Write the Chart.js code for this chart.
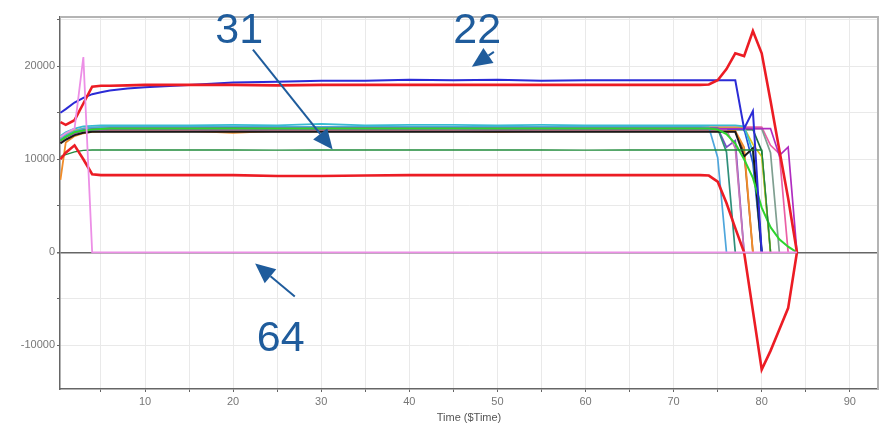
<!DOCTYPE html>
<html>
<head>
<meta charset="utf-8">
<script src="https://cdn.jsdelivr.net/npm/chart.js@4.4.1/dist/chart.umd.min.js"></script>
<style>
  html, body { margin: 0; padding: 0; background: #fff; }
  #wrap { width: 879px; height: 425px; }
</style>
</head>
<body>
<div id="wrap"><canvas id="c" width="879" height="425"></canvas></div>
<script>
// Sample times ($Time); the plateau is sampled coarsely, the run-out finely.
const time = [0.4, 1, 2, 3, 4, 5, 6, 8,
  10, 15, 20, 25, 30, 35, 40, 45, 50, 55, 60, 65, 70, 72, 73,
  74, 75, 76, 77, 78, 79, 80, 81, 82, 83, 84];

// Axis ticks
const xTicks = [5, 10, 15, 20, 25, 30, 35, 40, 45, 50, 55, 60, 65, 70, 75, 80, 85, 90];
const yTicks = [-10000, -5000, 0, 5000, 10000, 15000, 20000, 25000];

// Highlighted runs
const run64 = [12400, 12800, 13300, 21000, 0, 0, 0, 0,
  0, 0, 0, 0, 0, 0, 0, 0, 0, 0, 0, 0, 0, 0, 0,
  0, 0, 0, 0, 0, 0, 0, 0, 0, 0, 0];
const runUpperRed = [14000, 13700, 14200, 16000, 17800, 17900, 17900, 17950,
  18000, 18000, 18000, 17950, 18000, 18000, 18000, 18000, 18000, 18000, 18000, 18000, 18000, 18000, 18000,
  18050, 18500, 19700, 21400, 21100, 23800, 21400, 16300, 11000, 5800, 0];
const runLowerRed = [10000, 10700, 11500, 10000, 8400, 8300, 8300, 8300,
  8300, 8300, 8300, 8200, 8200, 8250, 8300, 8300, 8300, 8300, 8300, 8300, 8300, 8300, 8300,
  8250, 7600, 5300, 2600, 0, -6300, -12600, -10600, -8300, -6000, 0];
const run22 = [15000, 15400, 16100, 16600, 17000, 17200, 17400, 17600,
  17750, 18000, 18250, 18350, 18450, 18450, 18550, 18500, 18550, 18450, 18500, 18500, 18500, 18500, 18500,
  18500, 18500, 18500, 18500, 13300, 15200, 0];
const run31 = [10300, 10500, 10800, 10950, 11000, 11000, 11000, 11000,
  11000, 11000, 11000, 10980, 11000, 11000, 11000, 11000, 11000, 11000, 10980, 11000, 11000, 11000, 11000,
  11000, 11000, 11000, 11000, 11000, 11000, 11000, 0];
const runLime = [12000, 12400, 12900, 13100, 13200, 13250, 13300, 13300,
  13300, 13300, 13300, 13300, 13300, 13300, 13300, 13300, 13300, 13300, 13300, 13300, 13300, 13300, 13300,
  13300, 13200, 12700, 11700, 10000, 8000, 4800, 2700, 1400, 600, 0];

// Main bundle of runs
const runA = [12200, 12600, 13000, 13300, 13400, 13450, 13500, 13500,
  13500, 13500, 13550, 13500, 13500, 13550, 13500, 13500, 13500, 13500, 13500, 13500, 13500, 13500, 13500,
  13450, 10200, 0];
const runB = [12500, 12900, 13300, 13550, 13600, 13650, 13650, 13650,
  13650, 13650, 13700, 13650, 13800, 13650, 13700, 13700, 13650, 13700, 13650, 13650, 13650, 13650, 13650,
  13650, 13650, 13650, 13650, 13550, 10800, 0];
const runC = [12000, 12400, 12800, 13100, 13200, 13250, 13300, 13300,
  13300, 13300, 13350, 13300, 13300, 13300, 13300, 13350, 13300, 13300, 13300, 13300, 13300, 13300, 13300,
  13300, 13300, 10800, 0];
const runD = [11900, 12300, 12700, 12950, 13050, 13100, 13150, 13150,
  13150, 13150, 13150, 13150, 13150, 13150, 13150, 13150, 13150, 13150, 13150, 13150, 13150, 13150, 13150,
  13150, 13150, 13150, 11200, 0];
const runE = [12100, 12500, 12900, 13200, 13300, 13300, 13350, 13350,
  13350, 13350, 13350, 13350, 13350, 13350, 13350, 13350, 13350, 13350, 13350, 13350, 13350, 13350, 13350,
  13350, 13350, 11300, 12000, 0];
const runF = [7800, 11800, 12500, 12800, 12950, 13000, 13050, 13050,
  13050, 13050, 12850, 13050, 13050, 13050, 13050, 13050, 12950, 13050, 13050, 13050, 13050, 13050, 13050,
  13050, 13050, 13050, 13050, 11300, 0];
const runG = [11700, 12100, 12600, 12850, 12950, 12950, 12950, 12950,
  12950, 12950, 12950, 12950, 12950, 12950, 12950, 12950, 12950, 12950, 12950, 12950, 12950, 12950, 12950,
  12950, 12950, 12950, 12950, 10300, 11200, 0];
const runH = [12300, 12700, 13100, 13300, 13350, 13400, 13400, 13400,
  13400, 13400, 13400, 13400, 13400, 13400, 13400, 13400, 13400, 13400, 13400, 13400, 13400, 13400, 13400,
  13400, 13400, 13400, 13400, 13400, 11600, 10300, 0];
const runI = [12000, 12400, 12800, 13100, 13200, 13200, 13250, 13250,
  13250, 13250, 13250, 13250, 13250, 13250, 13250, 13250, 13250, 13250, 13250, 13250, 13250, 13250, 13250,
  13250, 13250, 13250, 13250, 13250, 9600, 0];
const runJ = [11900, 12300, 12800, 13050, 13150, 13200, 13200, 13200,
  13200, 13200, 13200, 13200, 13200, 13200, 13200, 13200, 13200, 13200, 13200, 13200, 13200, 13200, 13200,
  13200, 13200, 13200, 13200, 13200, 13200, 10900, 0];
const runK = [12100, 12500, 12900, 13150, 13250, 13300, 13300, 13300,
  13300, 13300, 13300, 13300, 13300, 13300, 13300, 13300, 13300, 13300, 13300, 13300, 13300, 13300, 13300,
  13300, 13300, 13300, 13300, 13300, 13300, 13300, 10700, 0];
const runL = [12300, 12700, 13100, 13300, 13400, 13450, 13450, 13450,
  13450, 13450, 13450, 13450, 13450, 13450, 13450, 13450, 13450, 13450, 13450, 13450, 13450, 13450, 13450,
  13450, 13450, 13450, 13450, 13450, 13450, 13450, 11500, 10600, 0];
const runM = [12000, 12400, 12800, 13100, 13200, 13250, 13300, 13300,
  13300, 13300, 13300, 13300, 13300, 13300, 13300, 13300, 13300, 13300, 13300, 13300, 13300, 13300, 13300,
  13300, 13300, 13300, 13300, 13300, 13300, 13300, 13300, 10400, 11300, 0];
const runN = [11800, 12200, 12600, 12900, 13000, 13000, 13000, 13000,
  13000, 13000, 13000, 13000, 13000, 13000, 13000, 13000, 13000, 13000, 13000, 13000, 13000, 13000, 13000,
  13000, 13000, 13000, 13000, 10800, 0];

// Series list: first entries are painted last (on top)
const series = [
  { label: '64', values: run64, color: '#ec8fe6', width: 1.8 },
  { label: 'upper red', values: runUpperRed, color: '#ec1c24', width: 2.6 },
  { label: 'lower red', values: runLowerRed, color: '#ec1c24', width: 2.6 },
  { label: '22', values: run22, color: '#2b2bd6', width: 2 },
  { label: '31', values: run31, color: '#1f8a3a', width: 1.3 },
  { label: 'lime', values: runLime, color: '#2fd42f', width: 2 },
  { label: 'm', values: runM, color: '#b02cc0', width: 1.7 },
  { label: 'g', values: runG, color: '#1a1a1a', width: 2 },
  { label: 'b', values: runB, color: '#38bcd0', width: 1.8 },
  { label: 'a', values: runA, color: '#4ea6dc', width: 1.7 },
  { label: 'c', values: runC, color: '#2f8f7a', width: 1.7 },
  { label: 'd', values: runD, color: '#c878b8', width: 1.7 },
  { label: 'e', values: runE, color: '#7a4ac8', width: 1.7 },
  { label: 'f', values: runF, color: '#f08c2a', width: 1.8 },
  { label: 'h', values: runH, color: '#d8c820', width: 1.7 },
  { label: 'i', values: runI, color: '#2454d8', width: 1.7 },
  { label: 'j', values: runJ, color: '#1d6e45', width: 1.7 },
  { label: 'k', values: runK, color: '#7f9f90', width: 1.7 },
  { label: 'l', values: runL, color: '#ea5fa5', width: 1.7 },
  { label: 'n', values: runN, color: '#a0582a', width: 1.7 }
];

// Callout labels with arrows, anchored in data units
const callouts = [
  { text: '31', tx: 20.7, ty: 22500, fromX: 22.25, fromY: 21800, toX: 31.3, toY: 11050 },
  { text: '22', tx: 47.7, ty: 22500, fromX: 49.6, fromY: 21550, toX: 47.1, toY: 19950 },
  { text: '64', tx: 25.4, ty: -10600, fromX: 27.0, fromY: -4750, toX: 22.5, toY: -1200 }
];

const FONT = "'Liberation Sans', Arial, sans-serif";

const framePlugin = {
  id: 'frame',
  beforeDatasetsDraw(chart) {
    const { ctx, chartArea: a } = chart;
    ctx.save();
    ctx.strokeStyle = '#b4b4b4';
    ctx.lineWidth = 2;
    ctx.beginPath();
    ctx.moveTo(a.left, a.top);
    ctx.lineTo(a.right, a.top);
    ctx.lineTo(a.right, a.bottom);
    ctx.stroke();
    ctx.restore();
  }
};

const calloutPlugin = {
  id: 'callouts',
  afterDraw(chart) {
    const { ctx } = chart;
    const xs = chart.scales.x, ys = chart.scales.y;
    const blue = '#1f5c9c';
    ctx.save();
    ctx.fillStyle = blue;
    ctx.strokeStyle = blue;
    ctx.font = '43px ' + FONT;
    ctx.textAlign = 'center';
    ctx.textBaseline = 'alphabetic';
    for (const c of callouts) {
      ctx.fillText(c.text, xs.getPixelForValue(c.tx), ys.getPixelForValue(c.ty));
      const x0 = xs.getPixelForValue(c.fromX), y0 = ys.getPixelForValue(c.fromY);
      const x1 = xs.getPixelForValue(c.toX), y1 = ys.getPixelForValue(c.toY);
      const ang = Math.atan2(y1 - y0, x1 - x0);
      const headLen = 20, headHalf = 9;
      const bx = x1 - headLen * Math.cos(ang), by = y1 - headLen * Math.sin(ang);
      ctx.lineWidth = 2;
      ctx.beginPath();
      ctx.moveTo(x0, y0);
      ctx.lineTo(bx, by);
      ctx.stroke();
      ctx.beginPath();
      ctx.moveTo(x1, y1);
      ctx.lineTo(bx + headHalf * Math.sin(ang), by - headHalf * Math.cos(ang));
      ctx.lineTo(bx - headHalf * Math.sin(ang), by + headHalf * Math.cos(ang));
      ctx.closePath();
      ctx.fill();
    }
    ctx.restore();
  }
};

const datasets = series.map(s => ({
  label: s.label,
  data: s.values.map((v, i) => ({ x: time[i], y: v })),
  borderColor: s.color,
  backgroundColor: s.color,
  borderWidth: s.width,
  pointRadius: 0,
  tension: 0,
  fill: false
}));

new Chart(document.getElementById('c'), {
  type: 'line',
  data: { datasets },
  options: {
    responsive: false,
    animation: false,
    devicePixelRatio: 1,
    layout: { padding: { top: 17, right: 1, left: 0, bottom: 0 } },
    plugins: { legend: { display: false }, tooltip: { enabled: false } },
    scales: {
      x: {
        type: 'linear',
        min: 0.35,
        max: 93.2,
        afterBuildTicks: s => { s.ticks = xTicks.map(v => ({ value: v })); },
        afterFit: s => { s.height = 36; },
        grid: { color: '#e9e9e9', lineWidth: 1, tickLength: 3, tickColor: '#666' },
        border: { color: '#666', width: 1.5 },
        ticks: {
          color: '#777', padding: 3, maxRotation: 0, autoSkip: false,
          font: { family: FONT, size: 11 },
          callback: v => (v % 10 === 0 ? String(v) : '')
        },
        title: {
          display: true, text: 'Time ($Time)', color: '#555',
          font: { family: FONT, size: 11 }, padding: { top: 0, bottom: 0 }
        }
      },
      y: {
        type: 'linear',
        min: -14700,
        max: 25300,
        afterBuildTicks: s => { s.ticks = yTicks.map(v => ({ value: v })); },
        afterFit: s => { s.width = 60; },
        grid: {
          color: c => (c.tick && c.tick.value === 0 ? '#666' : '#e9e9e9'),
          lineWidth: c => (c.tick && c.tick.value === 0 ? 1.5 : 1),
          tickLength: 3, tickColor: '#666'
        },
        border: { color: '#666', width: 1.5 },
        ticks: {
          color: '#777', padding: 2, autoSkip: false,
          font: { family: FONT, size: 11 },
          callback: v => (v % 10000 === 0 ? String(v) : '')
        }
      }
    }
  },
  plugins: [framePlugin, calloutPlugin]
});
</script>
</body>
</html>
